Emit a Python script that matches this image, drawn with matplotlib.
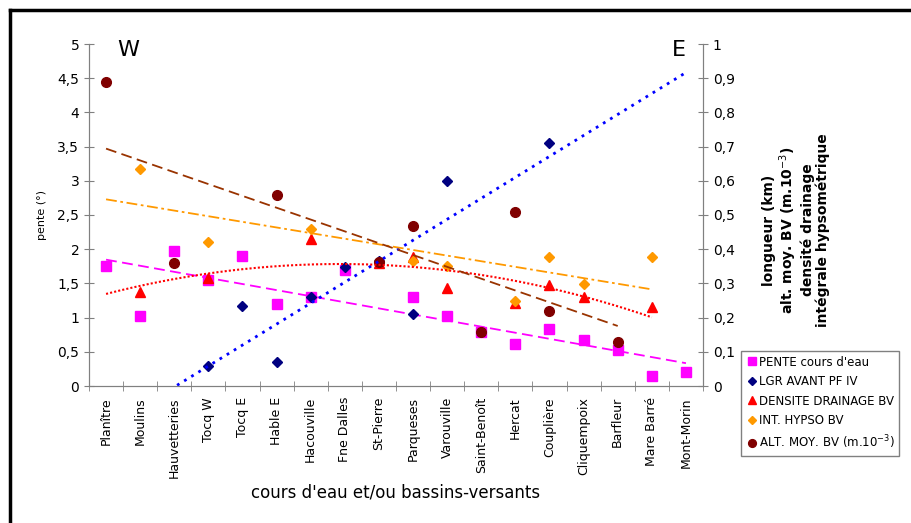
import numpy as np
import matplotlib
matplotlib.use("Agg")
import matplotlib.pyplot as plt
from matplotlib.lines import Line2D
from matplotlib.ticker import FuncFormatter

nan = np.nan

# cours d'eau, d'ouest en est
sites = ["Planître", "Moulins", "Hauvetteries", "Tocq W", "Tocq E", "Hable E",
         "Hacouville", "Fne Dalles", "St-Pierre", "Parqueses", "Varouville",
         "Saint-Benoît", "Hercat", "Couplière", "Cliquempoix", "Barfleur",
         "Mare Barré", "Mont-Morin"]

# pente (°), axe de gauche
pente = [1.75, 1.03, 1.97, 1.55, 1.90, 1.20, 1.30, 1.70, nan, 1.30, 1.02,
         0.79, 0.61, 0.83, 0.67, 0.52, 0.15, 0.20]
# axe de droite (0-1)
lgr = [nan, nan, nan, 0.058, 0.234, 0.07, 0.26, 0.348, 0.365, 0.21, 0.60,
       nan, nan, 0.71, nan, nan, nan, nan]
densite = [nan, 0.274, nan, 0.316, nan, nan, 0.43, nan, 0.36, 0.378, 0.286,
           nan, 0.242, 0.296, 0.26, nan, 0.232, nan]
hypso = [nan, 0.634, nan, 0.42, nan, nan, 0.46, nan, nan, 0.366, 0.35,
         nan, 0.25, 0.376, 0.298, nan, 0.376, nan]
alt_moy = [0.89, nan, 0.36, nan, nan, 0.558, nan, nan, 0.362, 0.468, nan,
           0.158, 0.509, 0.22, nan, 0.129, nan, nan]

x = np.arange(len(sites))


def trend(vals, deg, x_end):
    v = np.array(vals, dtype=float)
    ok = ~np.isnan(v)
    coef = np.polyfit(x[ok], v[ok], deg)
    xs = np.linspace(0, x_end, 200)
    return xs, np.polyval(coef, xs)


fig = plt.figure(figsize=(9.11, 5.23), dpi=100)
ax = fig.add_axes([89 / 911, 1 - 386 / 523, (703 - 89) / 911, (386 - 44) / 523])
ax2 = ax.twinx()

grey = "#808080"

h1, = ax.plot(x, pente, "s", color="#FF00FF", ms=6.5, ls="none", label="PENTE cours d'eau")
xs, ys = trend(pente, 1, 17)
ax.plot(xs, ys, color="#FF00FF", ls=(0, (6, 3)), lw=1.3)

h2, = ax2.plot(x, lgr, "D", color="#000080", ms=5, ls="none", label="LGR AVANT PF IV")
h3, = ax2.plot(x, densite, "^", color="#FF0000", ms=7, ls="none", label="DENSITE DRAINAGE BV")
h4, = ax2.plot(x, hypso, "D", color="#FF9900", ms=5, ls="none", label="INT. HYPSO BV")
h5, = ax2.plot(x, alt_moy, "o", color="#800000", ms=7, ls="none", label="ALT. MOY. BV (m.10$^{-3}$)")

xs, ys = trend(lgr, 1, 17)
ax2.plot(xs, ys, color="#0000FF", ls=(0, (1, 2)), lw=2)
xs, ys = trend(densite, 2, 16)
ax2.plot(xs, ys, color="#FF0000", ls=(0, (1, 1)), lw=1.5)
xs, ys = trend(hypso, 1, 16)
ax2.plot(xs, ys, color="#FF9900", ls=(0, (6, 2, 1.5, 2)), lw=1.3)
xs, ys = trend(alt_moy, 1, 15)
ax2.plot(xs, ys, color="#993300", ls=(0, (6, 3)), lw=1.3)

for a in (ax, ax2):
    a.set_xlim(-0.5, len(sites) - 0.5)
    a.spines["top"].set_visible(False)
    for s in ("left", "right", "bottom"):
        a.spines[s].set_color(grey)

ax.set_ylim(0, 5)
ax.set_yticks(np.arange(0, 5.01, 0.5))
ax.yaxis.set_major_formatter(FuncFormatter(lambda v, p: ("%g" % v).replace(".", ",")))
ax2.set_ylim(0, 1)
ax2.set_yticks(np.arange(0, 1.01, 0.1))
ax2.yaxis.set_major_formatter(FuncFormatter(lambda v, p: ("%g" % round(v, 1)).replace(".", ",")))

ax.set_xticks(x)
ax.set_xticklabels(sites, rotation=90, fontsize=9)
ax.set_xticks(np.arange(-0.5, len(sites), 1), minor=True)
ax.tick_params(axis="x", which="major", length=0, pad=8)
ax.tick_params(axis="x", which="minor", direction="inout", length=7, color=grey)
ax.tick_params(axis="y", direction="inout", length=7, color=grey, labelsize=10)
ax2.tick_params(axis="y", direction="inout", length=7, color=grey, labelsize=10)

ax.set_xlabel("cours d'eau et/ou bassins-versants", fontsize=12, labelpad=4)
fig.text(42 / 911, 1 - 215 / 523, "pente (°)", rotation=90, fontsize=8,
         ha="center", va="center")
fig.text(796 / 911, 1 - 230 / 523,
         "longueur (km)\nalt. moy. BV (m.10$^{-3}$)\ndensité drainage\nintégrale hypsométrique",
         rotation=90, fontsize=10, fontweight="semibold", ha="center", va="center",
         multialignment="center", linespacing=1.1)
fig.text(128 / 911, 1 - 50 / 523, "W", fontsize=16, ha="center", va="center")
fig.text(679 / 911, 1 - 50 / 523, "E", fontsize=16, ha="center", va="center")

fig.legend(handles=[h1, h2, h3, h4, h5], loc="upper left",
           bbox_to_anchor=(735 / 911, 1 - 345 / 523), fontsize=8.5,
           fancybox=False, edgecolor=grey, framealpha=1, handletextpad=0.1,
           handlelength=1, borderpad=0.4, labelspacing=0.55, markerscale=0.8)

# cadre
fig.add_artist(Line2D([10 / 911, 10 / 911], [0, 1 - 10 / 523], color="black", lw=2.5))
fig.add_artist(Line2D([10 / 911, 1], [1 - 10 / 523, 1 - 10 / 523], color="black", lw=2.5))

fig.savefig("out.png", dpi=100)
